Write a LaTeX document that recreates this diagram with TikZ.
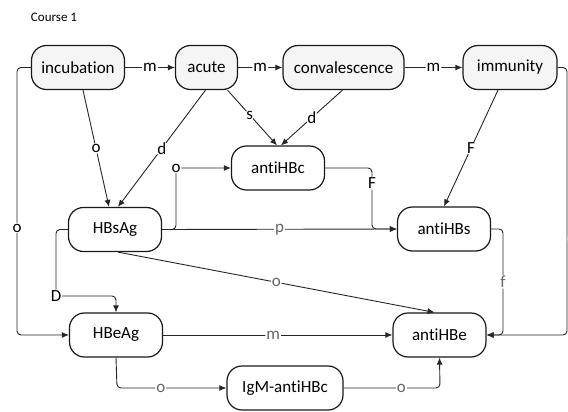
\documentclass[tikz,border=0pt]{standalone}
\usepackage{fontspec}
\setmainfont[Ligatures=NoCommon]{Carlito}
\usetikzlibrary{arrows.meta,calc}
\begin{document}
\begin{tikzpicture}[x=1pt,y=-1pt,
  state/.style={draw=black!90, line width=1.2pt, rounded corners=15pt,
    minimum height=44pt, minimum width=93pt, inner sep=0pt, fill=white,
    font=\fontsize{17}{20}\selectfont},
  phase/.style={state, fill=black!4},
  conn/.style={draw=black!85, line width=0.9pt, rounded corners=4pt,
    -{Latex[length=7pt,width=6pt]}},
  lbl/.style={fill=white, inner sep=1pt, font=\fontsize{17}{20}\selectfont},
  lbllight/.style={lbl, text=black!60}]
\useasboundingbox (0,0) rectangle (568,412);

\node[anchor=center, font=\fontsize{13}{15}\selectfont] (title) at (54,17) {Course 1};

% disease phases
\node[phase] (inc) at (78,67.5) {incubation};
\node[phase, minimum width=62pt] (acu) at (206.5,67.5) {acute};
\node[phase, minimum width=121pt] (con) at (343.5,67.5) {convalescence};
\node[phase, minimum width=94pt] (imm) at (510,67.5) {immunity};

% markers
\node[state] (abc) at (278,168) {antiHBc};
\node[state] (hbs) at (115,229.5) {HBsAg};
\node[state] (ahs) at (444,229) {antiHBs};
\node[state] (hbe) at (116,335) {HBeAg};
\node[state] (ahe) at (439.5,335) {antiHBe};
\node[state, minimum width=116pt] (igm) at (285,388) {IgM-antiHBc};

% phase sequence
\draw[conn] (inc) -- node[lbl]{m} (acu);
\draw[conn] (acu) -- node[lbl]{m} (con);
\draw[conn] (con) -- node[lbl]{m} (imm);

% phases to markers
\draw[conn] ([xshift=5pt]inc.south) -- node[lbl]{o} ([xshift=-6pt]hbs.north);
\draw[conn] ([xshift=-1pt]acu.south) -- node[lbl]{d} ([xshift=3pt]hbs.north);
\draw[conn] ([xshift=21pt]acu.south) -- node[lbl,pos=0.45]{s} ([xshift=-1pt]abc.north);
\draw[conn] ([xshift=-1pt]con.south) -- node[lbl,pos=0.5]{d} ([xshift=3pt]abc.north);
\draw[conn] ([xshift=-12pt]imm.south) -- node[lbl]{F} ([xshift=0pt]ahs.north);

% marker relations
\draw[conn] (hbs.east) -- (176,229.5) |- node[lbl,pos=0.5]{o} (abc.west);
\draw[conn] (abc.east) -- (372,168) -- node[lbl,pos=0.25]{F} (372,229) -- (ahs.west);
\draw[conn] (hbs.east) -- node[lbllight]{p} (ahs.west);
\draw[conn] ([xshift=3pt]hbs.south) -- node[lbllight]{o} ([xshift=-5pt]ahe.north);
\draw[conn] (hbs.west) -- (56,229.5) -- (56,296) node[lbl]{D} -- (116,296) -- (hbe.north);
\draw[conn] (inc.west) -- (17,67.5) -- node[lbl,pos=0.6]{o} (17,335) -- (hbe.west);
\draw[conn] (hbe.east) -- node[lbllight,pos=0.48]{m} (ahe.west);
\draw[conn] (hbe.south) -- (117,388) -- node[lbllight,pos=0.4]{o} (igm.west);
\draw[conn] (igm.east) -- node[lbllight,pos=0.6]{o} (440,388) -- (ahe.south);
\draw[conn] (ahs.east) -- (503,229) -- node[lbllight]{f} (503,335) -- (ahe.east);
\draw[conn] (imm.east) -- (567,67.5) -- node[lbllight,pos=0.64,xshift=6pt]{o} (567,335) -- (ahe.east);
\end{tikzpicture}
\end{document}
